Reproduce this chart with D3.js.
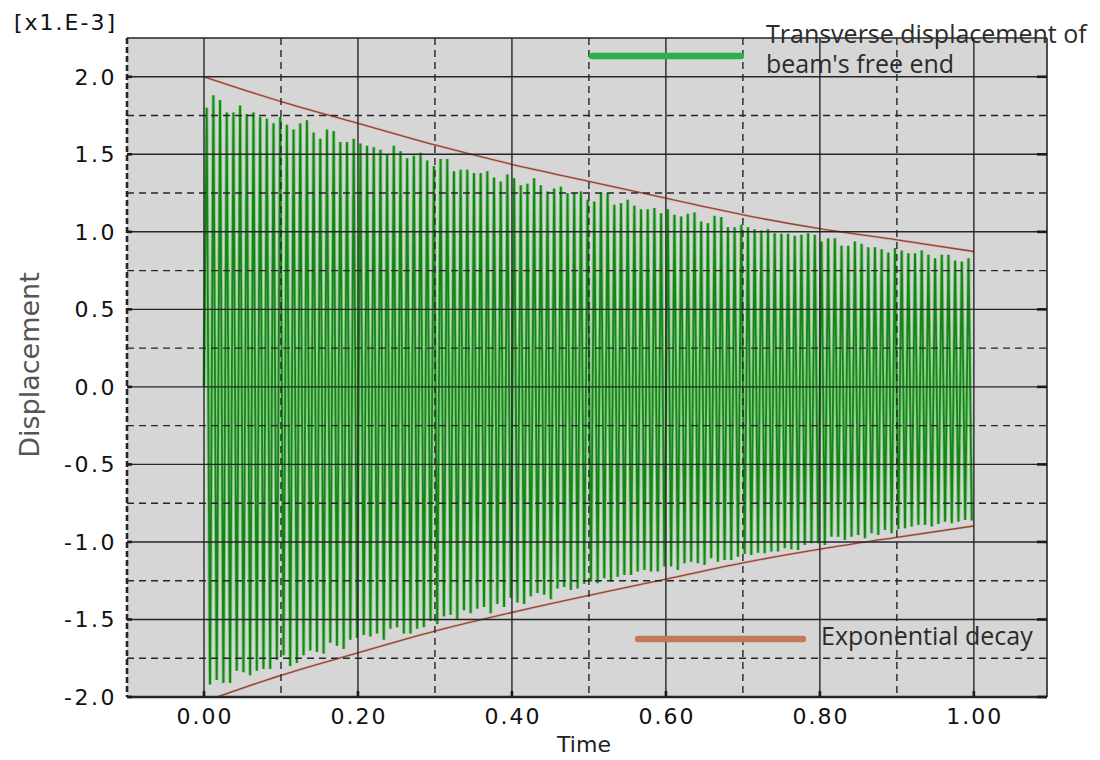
<!DOCTYPE html>
<html>
<head>
<meta charset="utf-8">
<script src="https://cdn.jsdelivr.net/npm/d3@7"></script>
<style>
  html, body { margin: 0; padding: 0; background: #ffffff; }
  svg { display: block; }
</style>
</head>
<body>
<svg id="chart" width="1100" height="760"></svg>
<script>
// ---------------- DATA ----------------
// Oscillation: peak (max) value of each cycle, units x1.E-3
const peakValues = [
  1.80,1.88,1.85,1.77,1.77,1.815,1.76,1.77,1.74,1.73,
  1.70,1.74,1.69,1.66,1.70,1.72,1.64,1.60,1.66,1.65,
  1.58,1.58,1.60,1.57,1.555,1.545,1.53,1.50,1.555,1.52,
  1.475,1.49,1.51,1.46,1.425,1.47,1.47,1.39,1.40,1.40,
  1.38,1.38,1.39,1.35,1.325,1.37,1.345,1.30,1.31,1.345,
  1.30,1.26,1.28,1.29,1.25,1.25,1.26,
  1.206,1.196,1.25,1.25,1.174,1.185,1.206,1.168,1.146,1.146,
  1.153,1.12,1.146,1.11,1.099,1.116,1.125,1.067,1.056,1.103,
  1.095,1.03,1.03,1.045,1.03,1.017,1.009,1.017,0.991,0.987,
  0.987,0.974,0.981,0.991,0.981,0.938,0.959,0.959,0.910,0.910,
  0.938,0.923,0.901,0.901,0.888,0.867,0.895,0.880,0.862,0.862,
  0.880,0.852,0.830,0.852,0.852,0.815,0.809,0.830
];
// Oscillation: trough (min) value of each cycle, units x1.E-3
const troughValues = [
  -1.92,-1.89,-1.91,-1.91,-1.83,-1.84,-1.86,-1.83,-1.82,-1.82,
  -1.76,-1.73,-1.80,-1.78,-1.73,-1.70,-1.71,-1.72,-1.65,-1.67,
  -1.69,-1.63,-1.62,-1.60,-1.61,-1.59,-1.63,-1.56,-1.55,-1.59,
  -1.59,-1.56,-1.55,-1.51,-1.53,-1.48,-1.47,-1.50,-1.44,-1.46,
  -1.43,-1.42,-1.46,-1.40,-1.42,-1.36,-1.39,-1.40,-1.35,-1.33,
  -1.34,-1.37,-1.30,-1.29,-1.31,-1.30,-1.27,
  -1.256,-1.267,-1.234,-1.256,-1.224,-1.213,-1.213,-1.191,-1.181,-1.191,
  -1.191,-1.159,-1.159,-1.181,-1.138,-1.127,-1.138,-1.148,-1.105,-1.127,
  -1.116,-1.116,-1.095,-1.077,-1.084,-1.069,-1.073,-1.062,-1.062,-1.041,
  -1.047,-1.052,-1.019,-1.009,-1.009,-1.019,-0.966,-0.966,-0.987,-0.966,
  -0.955,-0.976,-0.944,-0.955,-0.923,-0.944,-0.918,-0.912,-0.901,-0.890,
  -0.890,-0.901,-0.884,-0.869,-0.880,-0.869,-0.858,-0.862
];
const firstPeakTime = 0.0035;   // time of the first peak
const cyclePeriod = 0.00868;    // time between successive peaks

// Exponential decay envelope
const envelopeTimes = [0.0,0.1,0.2,0.3,0.4,0.5,0.6,0.7,0.8,0.9,1.0];
const envelopeUpper = [2.00,1.84,1.70,1.56,1.435,1.325,1.217,1.11,1.02,0.948,0.873];
const envelopeLower = [-2.03,-1.86,-1.715,-1.575,-1.455,-1.345,-1.24,-1.135,-1.047,-0.97,-0.897];

// Axes
const xMajorTicks = [0.0,0.2,0.4,0.6,0.8,1.0];
const xTickLabels = ["0.00","0.20","0.40","0.60","0.80","1.00"];
const xMinorTicks = [0.1,0.3,0.5,0.7,0.9];
const yMajorTicks = [-2.0,-1.5,-1.0,-0.5,0.0,0.5,1.0,1.5,2.0];
const yTickLabels = ["-2.0","-1.5","-1.0","-0.5","0.0","0.5","1.0","1.5","2.0"];
const yMinorTicks = [-1.75,-1.25,-0.75,-0.25,0.25,0.75,1.25,1.75];
const xDomain = [-0.1, 1.095];
const yDomain = [-2.0, 2.25];

const seriesNames = ["Transverse displacement of", "beam's free end"];
const envelopeName = "Exponential decay";
const xTitle = "Time";
const yTitle = "Displacement";
const scaleNote = "[x1.E-3]";

// ---------------- LAYOUT ----------------
const L = 127, R = 1047, T = 38, B = 697;
const svg = d3.select("#chart");
const x = d3.scaleLinear().domain(xDomain).range([L, R]);
const y = d3.scaleLinear().domain(yDomain).range([B, T]);

const tickFont = "'DejaVu Sans', Verdana, sans-serif";
const gridColor = "#262626";

svg.append("defs").append("clipPath").attr("id", "plotclip")
  .append("rect").attr("x", L).attr("y", T).attr("width", R - L).attr("height", B - T);

// background
svg.append("rect").attr("x", L).attr("y", T).attr("width", R - L).attr("height", B - T)
  .attr("fill", "#d6d6d6");

// signal points (zigzag: peak then trough half a period later)
const signal = [{t: 0, v: 0}];
peakValues.forEach((p, i) => {
  const tp = firstPeakTime + i * cyclePeriod;
  signal.push({t: tp, v: p});
  if (i < troughValues.length) signal.push({t: tp + cyclePeriod / 2, v: troughValues[i]});
});

const plot = svg.append("g").attr("clip-path", "url(#plotclip)");
const sigLine = d3.line().x(d => x(d.t)).y(d => y(d.v));
plot.append("path").datum(signal).attr("d", sigLine)
  .attr("fill", "none").attr("stroke", "#7fcd7f").attr("stroke-width", 3.6)
  .attr("stroke-linejoin", "miter");
plot.append("path").datum(signal).attr("d", sigLine)
  .attr("fill", "none").attr("stroke", "#1a821a").attr("stroke-width", 1.8)
  .attr("stroke-linejoin", "miter");

// envelope
const envLine = d3.line().curve(d3.curveMonotoneX)
  .x((d, i) => x(envelopeTimes[i])).y(d => y(d));
[envelopeUpper, envelopeLower].forEach(arr => {
  plot.append("path").datum(arr).attr("d", envLine)
    .attr("fill", "none").attr("stroke", "#e3b2a4").attr("stroke-width", 2.6);
  plot.append("path").datum(arr).attr("d", envLine)
    .attr("fill", "none").attr("stroke", "#87493b").attr("stroke-width", 1.3);
});

// grid
const grid = svg.append("g");
grid.selectAll(".vmaj").data(xMajorTicks).enter().append("line")
  .attr("x1", d => x(d)).attr("x2", d => x(d)).attr("y1", T).attr("y2", B)
  .attr("stroke", gridColor).attr("stroke-width", 1.4);
grid.selectAll(".vmin").data(xMinorTicks).enter().append("line")
  .attr("x1", d => x(d)).attr("x2", d => x(d)).attr("y1", T).attr("y2", B)
  .attr("stroke", gridColor).attr("stroke-width", 1.4).attr("stroke-dasharray", "7,5");
grid.selectAll(".hmaj").data(yMajorTicks).enter().append("line")
  .attr("x1", L).attr("x2", R).attr("y1", d => y(d)).attr("y2", d => y(d))
  .attr("stroke", gridColor).attr("stroke-width", 1.4);
grid.selectAll(".hmin").data(yMinorTicks).enter().append("line")
  .attr("x1", L).attr("x2", R).attr("y1", d => y(d)).attr("y2", d => y(d))
  .attr("stroke", gridColor).attr("stroke-width", 1.4).attr("stroke-dasharray", "7,5");

// border: top, right, bottom solid; left dashed (minor gridline at -0.1)
grid.append("line").attr("x1", L).attr("x2", R).attr("y1", T).attr("y2", T)
  .attr("stroke", gridColor).attr("stroke-width", 1.4);
grid.append("line").attr("x1", R).attr("x2", R).attr("y1", T).attr("y2", B)
  .attr("stroke", gridColor).attr("stroke-width", 1.6);
grid.append("line").attr("x1", L).attr("x2", R).attr("y1", B).attr("y2", B)
  .attr("stroke", gridColor).attr("stroke-width", 2.6);
grid.append("line").attr("x1", x(xDomain[0])).attr("x2", x(xDomain[0])).attr("y1", T).attr("y2", B)
  .attr("stroke", gridColor).attr("stroke-width", 2.6).attr("stroke-dasharray", "6,3");

// tick marks (inward)
const ticks = svg.append("g").attr("stroke", "#1a1a1a").attr("stroke-width", 2.6);
yMajorTicks.forEach(v => {
  ticks.append("line").attr("x1", L).attr("x2", L + 5).attr("y1", y(v)).attr("y2", y(v));
  ticks.append("line").attr("x1", R - 10).attr("x2", R).attr("y1", y(v)).attr("y2", y(v));
});
xMajorTicks.forEach(v => {
  ticks.append("line").attr("x1", x(v)).attr("x2", x(v)).attr("y1", B).attr("y2", B - 6);
});

// tick labels
svg.append("g").selectAll("text").data(yMajorTicks).enter().append("text")
  .attr("x", 117).attr("y", d => y(d) + 8)
  .attr("text-anchor", "end").attr("font-family", tickFont).attr("font-size", 22)
  .attr("letter-spacing", "2.5px")
  .attr("fill", "#111").text((d, i) => yTickLabels[i]);
svg.append("g").selectAll("text").data(xMajorTicks).enter().append("text")
  .attr("x", d => x(d) + 1).attr("y", 724)
  .attr("text-anchor", "middle").attr("font-family", tickFont).attr("font-size", 22)
  .attr("letter-spacing", "2px")
  .attr("fill", "#111").text((d, i) => xTickLabels[i]);

svg.append("text").attr("x", 117).attr("y", 30).attr("text-anchor", "end")
  .attr("font-family", tickFont).attr("font-size", 22).attr("letter-spacing", "2px")
  .attr("fill", "#111").text(scaleNote);

// axis titles
svg.append("text").attr("x", 584).attr("y", 752).attr("text-anchor", "middle")
  .attr("font-family", "'DejaVu Sans', sans-serif").attr("font-size", 22)
  .attr("fill", "#222").text(xTitle);
svg.append("text").attr("transform", "translate(39,365) rotate(-90)")
  .attr("text-anchor", "middle")
  .attr("font-family", "'DejaVu Sans', sans-serif").attr("font-size", 27)
  .attr("fill", "#555").text(yTitle);

// legend
const legFont = "'Open Sans', sans-serif";
svg.append("line").attr("x1", 592).attr("x2", 741).attr("y1", 56).attr("y2", 56)
  .attr("stroke", "#2db04b").attr("stroke-width", 6.5).attr("stroke-linecap", "round");
svg.append("text").attr("x", 766).attr("y", 43)
  .attr("font-family", legFont).attr("font-size", 25).attr("fill", "#2b2b2b").text(seriesNames[0]);
svg.append("text").attr("x", 766).attr("y", 73)
  .attr("font-family", legFont).attr("font-size", 25).attr("fill", "#2b2b2b").text(seriesNames[1]);

svg.append("line").attr("x1", 638).attr("x2", 803).attr("y1", 639).attr("y2", 639)
  .attr("stroke", "#c27b58").attr("stroke-width", 6.5).attr("stroke-linecap", "round");
svg.append("text").attr("x", 821).attr("y", 645)
  .attr("font-family", legFont).attr("font-size", 25).attr("fill", "#2b2b2b").text(envelopeName);
</script>
</body>
</html>
